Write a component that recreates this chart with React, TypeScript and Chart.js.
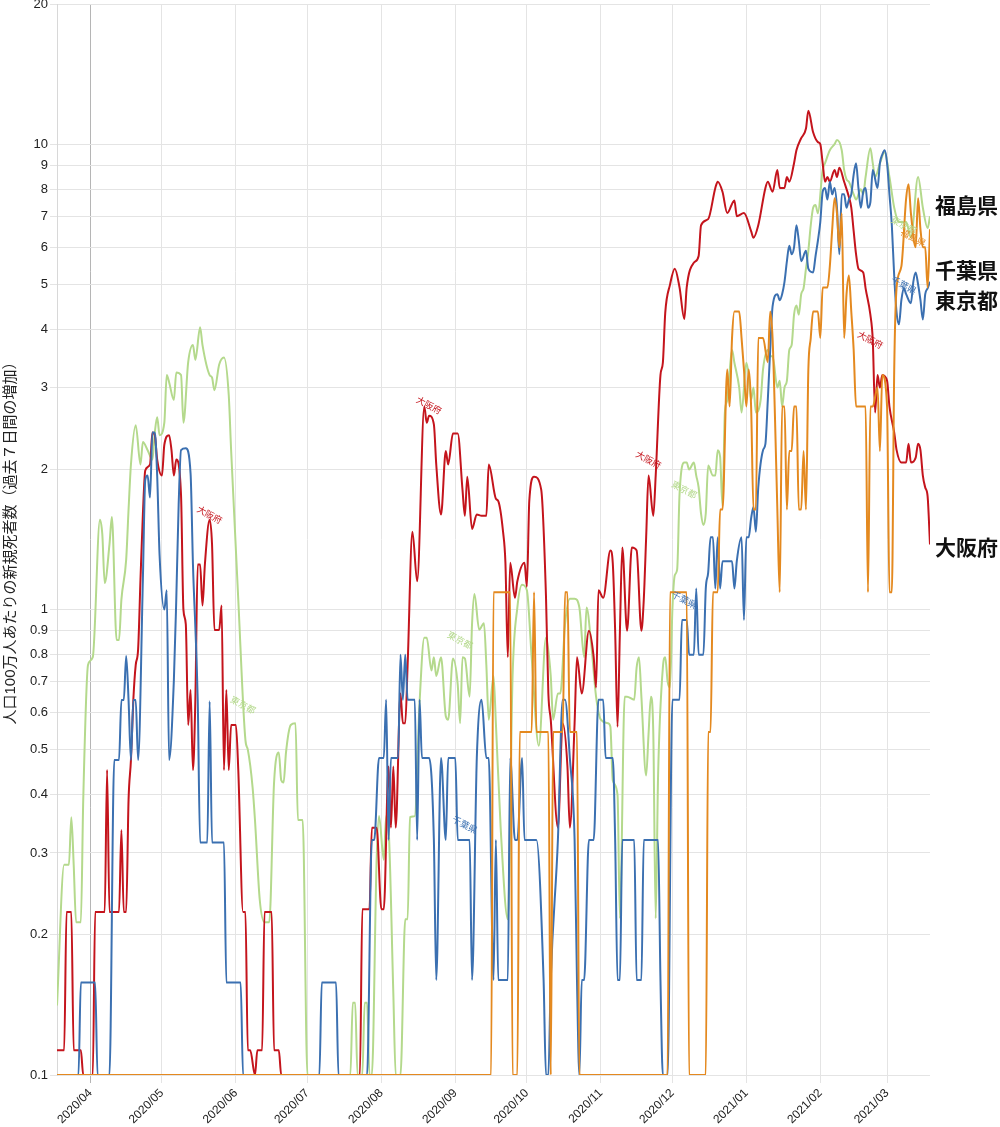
import React, { useEffect, useRef } from "react";
import { Chart, registerables } from "chart.js";

Chart.register(...registerables);

// x values are days counted from 2020-03-01 (day 0)
const monthDays = [31, 61, 92, 122, 153, 184, 214, 245, 275, 306, 337, 365];
const monthLabels = ["2020/04", "2020/05", "2020/06", "2020/07", "2020/08", "2020/09", "2020/10", "2020/11", "2020/12", "2021/01", "2021/02", "2021/03"];
const yTicks = [0.1, 0.2, 0.3, 0.4, 0.5, 0.6, 0.7, 0.8, 0.9, 1, 2, 3, 4, 5, 6, 7, 8, 9, 10, 20];

const yTitle = "人口100万人あたりの新規死者数（過去７日間の増加）";

// [day, value]
const tokyo: [number, number][] = [
  [17, 0.141], [20, 0.283], [22, 0.283], [23, 0.358], [24, 0.283], [25, 0.213], [27, 0.213], [28, 0.39], [30, 0.76], [32, 0.79],
  [35, 1.56], [36, 1.45], [37, 1.14], [39, 1.38], [40, 1.58], [42, 0.86], [43, 0.86], [44, 1.05], [46, 1.28], [47, 1.64],
  [48, 2.05], [50, 2.49], [52, 2.05], [53, 2.29], [55, 2.2], [57, 2.1], [58, 2.4], [59, 2.59], [60, 2.37], [62, 2.52],
  [63, 3.19], [64, 3.08], [66, 2.82], [67, 3.23], [69, 3.19], [70, 2.52], [72, 3.4], [74, 3.7], [75, 3.44], [77, 4.04],
  [78, 3.7], [81, 3.19], [82, 3.15], [83, 2.96], [85, 3.36], [87, 3.48], [89, 2.89], [90, 2.2], [93, 1.05], [96, 0.524],
  [97, 0.5], [99, 0.415], [100, 0.353], [102, 0.238], [104, 0.213], [106, 0.213], [108, 0.425], [110, 0.493], [111, 0.43], [112, 0.425],
  [113, 0.493], [115, 0.565], [117, 0.57], [118, 0.353], [120, 0.353], [122, 0.1], [140, 0.1], [141, 0.143], [142, 0.143], [143, 0.1],
  [145, 0.1], [146, 0.143], [147, 0.143], [148, 0.1], [149, 0.1], [151, 0.29], [152, 0.36], [154, 0.29], [155, 0.36], [156, 0.34],
  [158, 0.15], [159, 0.1], [161, 0.1], [163, 0.216], [164, 0.216], [165, 0.358], [167, 0.36], [169, 0.63], [171, 0.87], [172, 0.87],
  [174, 0.74], [175, 0.79], [176, 0.72], [178, 0.79], [180, 0.59], [181, 0.58], [183, 0.785], [185, 0.69], [186, 0.57], [187, 0.79],
  [188, 0.785], [190, 0.65], [191, 0.93], [192, 1.08], [194, 0.905], [196, 0.935], [197, 0.76], [198, 0.58], [200, 0.72], [201, 0.57],
  [203, 0.34], [206, 0.216], [208, 0.72], [210, 1.01], [212, 1.13], [214, 1.1], [216, 0.79], [219, 0.51], [222, 0.87], [224, 0.72],
  [225, 0.58], [227, 0.66], [228, 0.66], [230, 0.93], [232, 1.055], [234, 1.055], [236, 1.01], [238, 0.79], [239, 1.01], [241, 0.84],
  [243, 0.65], [245, 0.58], [248, 0.57], [249, 0.56], [250, 0.43], [252, 0.4], [253, 0.217], [255, 0.65], [256, 0.65], [259, 0.64],
  [260, 0.75], [261, 0.79], [262, 0.65], [264, 0.44], [265, 0.54], [266, 0.65], [267, 0.54], [268, 0.217], [269, 0.44], [271, 0.75],
  [272, 0.79], [273, 0.7], [274, 0.68], [275, 1.0], [276, 1.185], [277, 1.22], [278, 1.77], [280, 2.07], [281, 2.07], [282, 2.0],
  [284, 2.07], [285, 1.94], [286, 1.83], [287, 1.61], [288, 1.52], [289, 1.61], [290, 2.04], [292, 1.94], [293, 1.94], [294, 2.2],
  [295, 2.13], [296, 1.67], [297, 2.65], [298, 2.82], [299, 3.25], [300, 3.61], [301, 3.39], [303, 3.0], [304, 2.65], [306, 3.39],
  [307, 3.19], [308, 2.82], [309, 3.0], [310, 2.65], [312, 2.82], [313, 3.28], [315, 3.61], [316, 3.5], [317, 3.5], [319, 3.0],
  [320, 3.1], [321, 2.73], [322, 3.0], [323, 3.1], [324, 3.61], [325, 3.7], [326, 4.3], [327, 4.5], [328, 4.3], [329, 4.76],
  [330, 4.9], [331, 5.4], [332, 5.9], [333, 6.69], [334, 7.3], [335, 7.4], [336, 7.1], [338, 8.8], [339, 9.1], [341, 9.7],
  [343, 10.0], [344, 10.2], [346, 9.7], [347, 8.8], [348, 8.4], [349, 8.3], [351, 7.8], [352, 7.6], [354, 8.0], [355, 7.8],
  [356, 8.5], [358, 9.8], [359, 9.1], [360, 8.5], [362, 9.1], [364, 9.6], [366, 8.5], [368, 7.3], [370, 6.8], [373, 6.8],
  [375, 6.3], [378, 8.5], [380, 7.3], [382, 6.6], [383, 7.0],
];

const chiba: [number, number][] = [
  [17, 0.1], [26, 0.1], [27, 0.158], [33, 0.158], [34, 0.1], [39, 0.1], [41, 0.475], [43, 0.475], [44, 0.639], [45, 0.639],
  [46, 0.795], [47, 0.639], [48, 0.475], [49, 0.639], [50, 0.639], [51, 0.475], [53, 1.16], [54, 1.9], [55, 1.94], [56, 1.74],
  [57, 2.4], [58, 2.4], [59, 1.94], [60, 1.31], [62, 1.0], [63, 1.1], [64, 0.475], [66, 0.706], [67, 1.05], [68, 1.68],
  [69, 2.2], [71, 2.22], [73, 1.96], [74, 1.25], [76, 0.639], [77, 0.316], [80, 0.316], [81, 0.635], [82, 0.316], [87, 0.316],
  [88, 0.158], [94, 0.158], [95, 0.1], [127, 0.1], [128, 0.158], [134, 0.158], [135, 0.1], [147, 0.1], [149, 0.32], [150, 0.32],
  [152, 0.48], [154, 0.48], [155, 0.64], [156, 0.32], [157, 0.48], [160, 0.48], [161, 0.8], [162, 0.64], [163, 0.8], [164, 0.64],
  [167, 0.64], [168, 0.32], [169, 0.64], [170, 0.48], [173, 0.48], [175, 0.32], [176, 0.16], [178, 0.48], [180, 0.32], [181, 0.48],
  [184, 0.48], [185, 0.32], [190, 0.32], [191, 0.16], [193, 0.48], [195, 0.64], [197, 0.48], [198, 0.48], [200, 0.16], [201, 0.32],
  [202, 0.16], [206, 0.16], [207, 0.48], [209, 0.32], [210, 0.32], [212, 0.48], [213, 0.32], [218, 0.32], [221, 0.16], [222, 0.1],
  [223, 0.1], [224, 0.16], [227, 0.32], [229, 0.64], [230, 0.64], [232, 0.48], [234, 0.32], [235, 0.16], [236, 0.1], [237, 0.16],
  [238, 0.16], [240, 0.32], [242, 0.32], [244, 0.64], [246, 0.64], [247, 0.48], [250, 0.48], [251, 0.32], [252, 0.16], [253, 0.16],
  [254, 0.32], [259, 0.32], [260, 0.16], [262, 0.16], [263, 0.32], [269, 0.32], [270, 0.16], [271, 0.1], [273, 0.1], [275, 0.64],
  [278, 0.64], [279, 0.95], [281, 0.95], [282, 0.8], [284, 0.8], [285, 1.11], [286, 0.8], [288, 0.8], [289, 1.11], [290, 1.2],
  [291, 1.43], [292, 1.43], [293, 1.11], [294, 1.43], [295, 1.11], [296, 1.27], [300, 1.27], [301, 1.11], [302, 1.27], [304, 1.43],
  [305, 0.95], [306, 1.43], [307, 1.43], [308, 1.57], [309, 1.66], [310, 1.47], [311, 1.83], [313, 2.2], [314, 2.27], [315, 2.82],
  [316, 3.61], [317, 4.48], [319, 4.76], [320, 4.62], [321, 4.76], [322, 5.06], [323, 5.6], [324, 6.05], [325, 5.8], [326, 6.0],
  [327, 6.69], [328, 6.2], [329, 5.6], [331, 5.9], [332, 5.4], [334, 5.3], [335, 5.74], [336, 6.2], [337, 6.8], [338, 7.9],
  [339, 8.05], [340, 7.6], [341, 8.3], [342, 7.8], [343, 8.05], [344, 7.3], [345, 5.8], [346, 7.8], [347, 7.8], [348, 7.3],
  [349, 7.6], [350, 7.8], [351, 8.6], [352, 9.1], [353, 8.05], [354, 7.3], [355, 7.9], [356, 8.05], [357, 7.3], [358, 7.5],
  [359, 8.8], [361, 8.05], [362, 9.1], [363, 9.5], [364, 9.7], [365, 9.1], [366, 7.8], [367, 6.69], [368, 5.2], [369, 4.34],
  [370, 4.1], [371, 4.62], [372, 4.9], [373, 4.76], [375, 4.55], [376, 5.06], [377, 5.3], [378, 5.0], [379, 4.62], [380, 4.2],
  [381, 4.76], [382, 4.9], [383, 5.06],
];

const osaka: [number, number][] = [
  [17, 0.113], [20, 0.113], [21, 0.224], [23, 0.224], [24, 0.113], [27, 0.113], [28, 0.1], [32, 0.1], [33, 0.224], [37, 0.224],
  [38, 0.452], [39, 0.224], [43, 0.224], [44, 0.336], [45, 0.224], [46, 0.224], [47, 0.39], [48, 0.475], [49, 0.639], [50, 0.76],
  [51, 0.82], [52, 1.16], [53, 1.6], [54, 1.99], [56, 2.05], [57, 2.4], [58, 2.37], [59, 2.1], [61, 1.94], [62, 2.26],
  [64, 2.37], [65, 2.2], [66, 1.94], [67, 2.1], [69, 1.76], [70, 1.0], [71, 0.93], [72, 0.565], [73, 0.672], [74, 0.452],
  [75, 0.639], [76, 1.25], [77, 1.25], [78, 1.02], [79, 1.25], [81, 1.56], [82, 1.38], [83, 0.904], [85, 0.904], [86, 1.02],
  [87, 0.452], [88, 0.672], [89, 0.452], [90, 0.565], [92, 0.565], [93, 0.452], [95, 0.224], [96, 0.224], [97, 0.113], [98, 0.113],
  [100, 0.1], [101, 0.113], [103, 0.113], [104, 0.224], [107, 0.224], [108, 0.113], [110, 0.113], [111, 0.1], [144, 0.1], [145, 0.227],
  [148, 0.227], [149, 0.34], [151, 0.34], [153, 0.227], [154, 0.227], [156, 0.46], [157, 0.34], [158, 0.46], [159, 0.34], [161, 0.66],
  [162, 0.57], [163, 0.57], [164, 0.76], [166, 1.47], [168, 1.15], [171, 2.73], [172, 2.52], [173, 2.61], [175, 2.5], [176, 2.05],
  [178, 1.6], [180, 2.19], [181, 2.05], [183, 2.39], [185, 2.39], [187, 1.81], [188, 1.59], [189, 1.93], [191, 1.49], [193, 1.6],
  [195, 1.59], [197, 1.59], [198, 2.05], [201, 1.73], [202, 1.71], [204, 1.47], [205, 1.26], [206, 0.79], [207, 1.26], [209, 1.06],
  [210, 1.15], [213, 1.26], [214, 1.12], [215, 1.71], [217, 1.93], [220, 1.81], [222, 1.07], [223, 0.66], [224, 0.58], [227, 0.34],
  [229, 0.57], [231, 0.46], [232, 0.34], [234, 0.57], [235, 0.79], [237, 0.66], [240, 0.9], [242, 0.79], [243, 0.68], [244, 1.1],
  [246, 1.06], [249, 1.34], [250, 1.26], [251, 0.9], [252, 0.56], [253, 0.9], [254, 1.36], [256, 0.9], [258, 1.36], [260, 1.34],
  [262, 0.9], [263, 1.05], [264, 1.43], [265, 1.94], [267, 1.59], [268, 1.94], [270, 3.19], [271, 3.39], [272, 4.34], [274, 4.99],
  [276, 5.4], [278, 4.92], [280, 4.21], [281, 4.92], [284, 5.56], [286, 5.75], [287, 6.69], [290, 6.9], [293, 8.05], [294, 8.3],
  [296, 7.9], [298, 7.11], [301, 7.57], [302, 7.0], [305, 7.11], [308, 6.5], [309, 6.29], [311, 6.69], [314, 8.05], [315, 8.3],
  [317, 7.9], [319, 8.8], [320, 8.05], [322, 8.05], [323, 8.5], [324, 8.3], [326, 9.1], [327, 9.7], [329, 10.3], [331, 10.8],
  [332, 11.8], [334, 10.6], [336, 10.1], [337, 10.0], [338, 9.1], [339, 8.3], [340, 8.5], [341, 8.3], [343, 8.8], [344, 8.5],
  [345, 8.9], [347, 8.3], [349, 7.7], [350, 7.3], [351, 6.5], [352, 5.8], [353, 5.4], [355, 5.3], [356, 4.9], [358, 4.3],
  [359, 3.8], [360, 2.65], [361, 3.19], [362, 3.0], [363, 3.19], [365, 3.1], [366, 2.73], [368, 2.4], [369, 2.2], [371, 2.07],
  [373, 2.07], [374, 2.27], [375, 2.07], [377, 2.12], [378, 2.27], [379, 2.2], [380, 1.94], [381, 1.83], [382, 1.75], [383, 1.38],
];

const fukushima: [number, number][] = [
  [17, 0.1], [199, 0.1], [200, 1.09], [207, 1.09], [208, 0.1], [210, 0.1], [211, 0.546], [216, 0.546], [217, 1.09], [218, 0.546],
  [223, 0.546], [224, 0.1], [225, 0.546], [229, 0.546], [230, 1.09], [231, 1.09], [232, 0.546], [235, 0.546], [236, 0.1], [273, 0.1],
  [274, 1.09], [281, 1.09], [282, 0.1], [289, 0.1], [290, 0.546], [291, 0.546], [292, 1.09], [294, 1.09], [295, 1.64], [296, 1.64],
  [298, 3.28], [299, 2.73], [300, 3.83], [301, 4.37], [303, 4.37], [304, 3.83], [305, 3.28], [306, 2.73], [307, 3.28], [308, 2.73],
  [309, 1.64], [310, 1.64], [311, 3.83], [313, 3.83], [315, 3.4], [316, 4.37], [317, 3.83], [318, 2.6], [319, 1.64], [320, 1.09],
  [321, 2.73], [322, 2.73], [323, 1.64], [324, 2.19], [325, 2.19], [326, 2.73], [327, 2.73], [328, 1.64], [329, 1.64], [330, 2.19],
  [331, 1.64], [332, 3.28], [333, 3.83], [334, 4.37], [336, 4.37], [337, 3.83], [338, 4.92], [340, 4.92], [341, 5.46], [342, 6.56],
  [343, 7.65], [344, 7.1], [345, 6.0], [346, 7.1], [347, 3.83], [348, 4.76], [349, 5.22], [350, 4.37], [351, 3.61], [352, 2.73],
  [356, 2.73], [357, 1.09], [358, 2.73], [359, 2.73], [361, 3.0], [362, 2.19], [363, 3.19], [365, 2.73], [366, 1.09], [367, 1.09],
  [368, 3.28], [369, 4.92], [371, 5.46], [373, 7.65], [374, 8.2], [375, 7.1], [377, 6.0], [378, 7.65], [379, 6.56], [380, 6.0],
  [381, 6.0], [382, 4.92], [383, 6.56],
];

// inline series labels, anchored at [day, value]
const osakaInline: [number, number][] = [[81, 1.6], [173, 2.75], [265, 2.1], [358, 3.8]];
const tokyoInline: [number, number][] = [[95, 0.624], [186, 0.86], [280, 1.81], [372, 6.7]];
const chibaInline: [number, number][] = [[188, 0.345], [280, 1.05], [372, 4.98]];
const fukushimaInline: [number, number][] = [[376, 6.3]];

// labels right of the plot
const endNames = ["福島県", "千葉県", "東京都", "大阪府"];
const endValues = [7.4, 5.37, 4.63, 1.36];

const RED = "#c4141c";
const GREEN = "#b4d98c";
const BLUE = "#3b70b1";
const ORANGE = "#e4891f";

const toXY = (arr: [number, number][]) => arr.map(([x, y]) => ({ x, y }));

const labelPlugin = {
  id: "seriesLabels",
  afterDatasetsDraw(chart: any) {
    const { ctx, scales, chartArea } = chart;
    const xs = scales.x;
    const ys = scales.y;
    const groups: [string, string, [number, number][]][] = [
      ["大阪府", RED, osakaInline],
      ["東京都", GREEN, tokyoInline],
      ["千葉県", BLUE, chibaInline],
      ["福島県", ORANGE, fukushimaInline],
    ];
    ctx.save();
    for (const [text, color, pts] of groups) {
      for (const [d, v] of pts) {
        const px = xs.getPixelForValue(d);
        const py = ys.getPixelForValue(v);
        ctx.save();
        ctx.translate(px, py);
        ctx.rotate((28 * Math.PI) / 180);
        ctx.font = '9px "Noto Sans CJK JP", sans-serif';
        ctx.fillStyle = color;
        ctx.textAlign = "center";
        ctx.textBaseline = "middle";
        ctx.fillText(text, 0, 0);
        ctx.restore();
      }
    }
    ctx.font = 'bold 21px "Noto Sans CJK JP", serif';
    ctx.fillStyle = "#111";
    ctx.textAlign = "left";
    ctx.textBaseline = "middle";
    endNames.forEach((n, i) => {
      ctx.fillText(n, chartArea.right + 5, ys.getPixelForValue(endValues[i]));
    });
    ctx.restore();
  },
};

export default function App() {
  const ref = useRef<HTMLCanvasElement>(null);
  useEffect(() => {
    document.body.style.margin = "0";
    Chart.defaults.font.family = '"Liberation Sans", Arial, "Noto Sans CJK JP", sans-serif';
    const lineDs = (label: string, data: [number, number][], color: string, order: number) => ({
      label,
      data: toXY(data),
      borderColor: color,
      backgroundColor: color,
      borderWidth: 2,
      pointRadius: 0,
      cubicInterpolationMode: "monotone" as const,
      order,
    });
    const chart = new Chart(ref.current as HTMLCanvasElement, {
      type: "line",
      data: {
        datasets: [
          lineDs("福島県", fukushima, ORANGE, 1),
          lineDs("千葉県", chiba, BLUE, 2),
          lineDs("大阪府", osaka, RED, 3),
          lineDs("東京都", tokyo, GREEN, 4),
        ],
      },
      options: {
        animation: false,
        responsive: false,
        devicePixelRatio: 1,
        layout: { padding: { top: 4, right: 70, bottom: 0, left: 0 } },
        plugins: { legend: { display: false }, tooltip: { enabled: false } },
        scales: {
          x: {
            type: "linear",
            min: 17,
            max: 383,
            afterBuildTicks: (scale: any) => {
              scale.ticks = monthDays.map((v) => ({ value: v }));
            },
            afterFit: (scale: any) => {
              scale.height = 52;
              scale.paddingLeft = 0;
              scale.paddingRight = 0;
            },
            ticks: {
              autoSkip: false,
              maxRotation: 45,
              minRotation: 45,
              color: "#222",
              font: { size: 12 },
              callback: (v: any) => {
                const i = monthDays.indexOf(Number(v));
                return i >= 0 ? monthLabels[i] : "";
              },
            },
            grid: {
              color: (c: any) => (c.tick && c.tick.value === 31 ? "#b5b5b5" : "#e4e4e4"),
              tickLength: 8,
            },
            border: { display: false },
          },
          y: {
            type: "logarithmic",
            min: 0.1,
            max: 20,
            afterBuildTicks: (scale: any) => {
              scale.ticks = yTicks.map((v) => ({ value: v }));
            },
            afterFit: (scale: any) => {
              scale.width = 57;
              scale.paddingTop = 0;
              scale.paddingBottom = 0;
            },
            ticks: {
              autoSkip: false,
              color: "#222",
              font: { size: 13 },
              padding: 2,
              callback: (v: any) => String(v),
            },
            grid: { color: "#e4e4e4", tickLength: 7 },
            border: { color: "#d8d8d8" },
            title: {
              display: true,
              text: yTitle,
              color: "#222",
              font: { size: 15 },
              padding: { top: 2, bottom: 0 },
            },
          },
        },
      },
      plugins: [labelPlugin],
    } as any);
    return () => chart.destroy();
  }, []);
  return (
    <div style={{ width: 1000, height: 1127 }}>
      <canvas ref={ref} width={1000} height={1127} style={{ display: "block" }} />
    </div>
  );
}
